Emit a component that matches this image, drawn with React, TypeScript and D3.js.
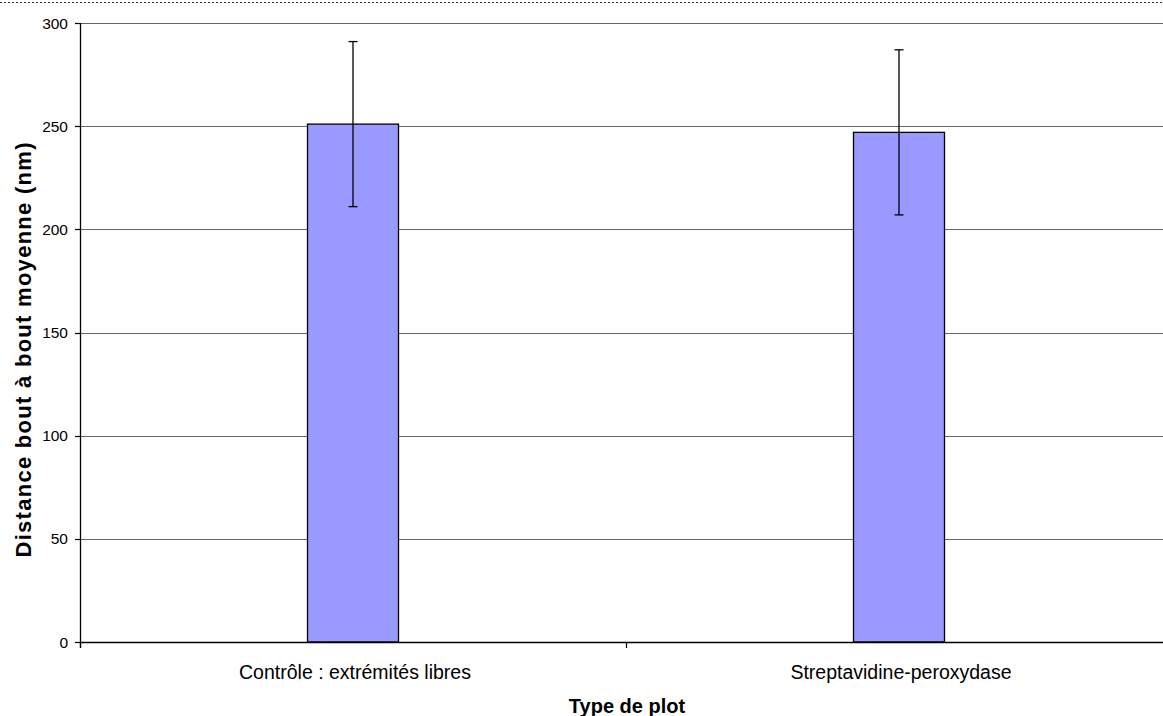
import React from "react";
import * as d3 from "d3";

const categories = ["Contrôle : extrémités libres", "Streptavidine-peroxydase"];
const values = [251, 247];
const errors = [40, 40];
const yTicks = [0, 50, 100, 150, 200, 250, 300];

const W = 1163, H = 716;
const left = 80, right = 1172, top = 23, bottom = 642;

export default function App() {
  const y = d3.scaleLinear().domain([0, 300]).range([bottom, top]);
  const x = d3.scaleBand().domain(categories).range([left, right]).paddingInner(0).paddingOuter(0);
  const bw = x.bandwidth();
  const barW = bw / 6;
  const font = "Arial, 'Liberation Sans', sans-serif";
  return (
    <svg width={W} height={H} style={{ position: "absolute", left: 0, top: 0, background: "#fff" }} fontFamily={font}>
      <line x1={0} x2={W} y1={2.5} y2={2.5} stroke="#333" strokeWidth={1} strokeDasharray="2,2" />
      {yTicks.filter(t => t > 0).map(t => (
        <line key={t} x1={left} x2={right} y1={Math.round(y(t)) + 0.5} y2={Math.round(y(t)) + 0.5} stroke="#666" strokeWidth={1.2} />
      ))}
      {categories.map((c, i) => {
        const cx = x(c)! + bw / 2;
        const y0 = y(values[i]);
        return (
          <g key={c}>
            <rect x={cx - barW / 2} y={y0} width={barW} height={bottom - y0} fill="#9999FF" stroke="#000" strokeWidth={1.3} />
            <line x1={cx} x2={cx} y1={y(values[i] + errors[i])} y2={y(values[i] - errors[i])} stroke="#000" strokeWidth={1.3} />
            <line x1={cx - 4.5} x2={cx + 4.5} y1={y(values[i] + errors[i])} y2={y(values[i] + errors[i])} stroke="#000" strokeWidth={1.3} />
            <line x1={cx - 4.5} x2={cx + 4.5} y1={y(values[i] - errors[i])} y2={y(values[i] - errors[i])} stroke="#000" strokeWidth={1.3} />
            <text x={cx + 2} y={679} textAnchor="middle" fontSize={19.5} fill="#000">{c}</text>
          </g>
        );
      })}
      <line x1={left + 0.5} x2={left + 0.5} y1={top} y2={bottom + 6} stroke="#000" strokeWidth={1.3} />
      <line x1={left} x2={right} y1={bottom + 0.5} y2={bottom + 0.5} stroke="#000" strokeWidth={1.3} />
      {yTicks.map(t => (
        <g key={t}>
          <line x1={left - 5} x2={left} y1={Math.round(y(t)) + 0.5} y2={Math.round(y(t)) + 0.5} stroke="#000" strokeWidth={1.2} />
          <text x={68} y={y(t) + 5.5} textAnchor="end" fontSize={15.5} fill="#000">{t}</text>
        </g>
      ))}
      {[left, left + bw, right].map((t, i) => (
        <line key={i} x1={t + 0.5} x2={t + 0.5} y1={bottom} y2={bottom + 6} stroke="#000" strokeWidth={1.2} />
      ))}
      <text x={627} y={713} textAnchor="middle" fontSize={20} fontWeight="bold" fill="#000">Type de plot</text>
      <text transform={`translate(31, 350) rotate(-90)`} textAnchor="middle" fontSize={22} fontWeight="bold" fill="#000" textLength={415} lengthAdjust="spacing">Distance bout à bout moyenne (nm)</text>
    </svg>
  );
}
